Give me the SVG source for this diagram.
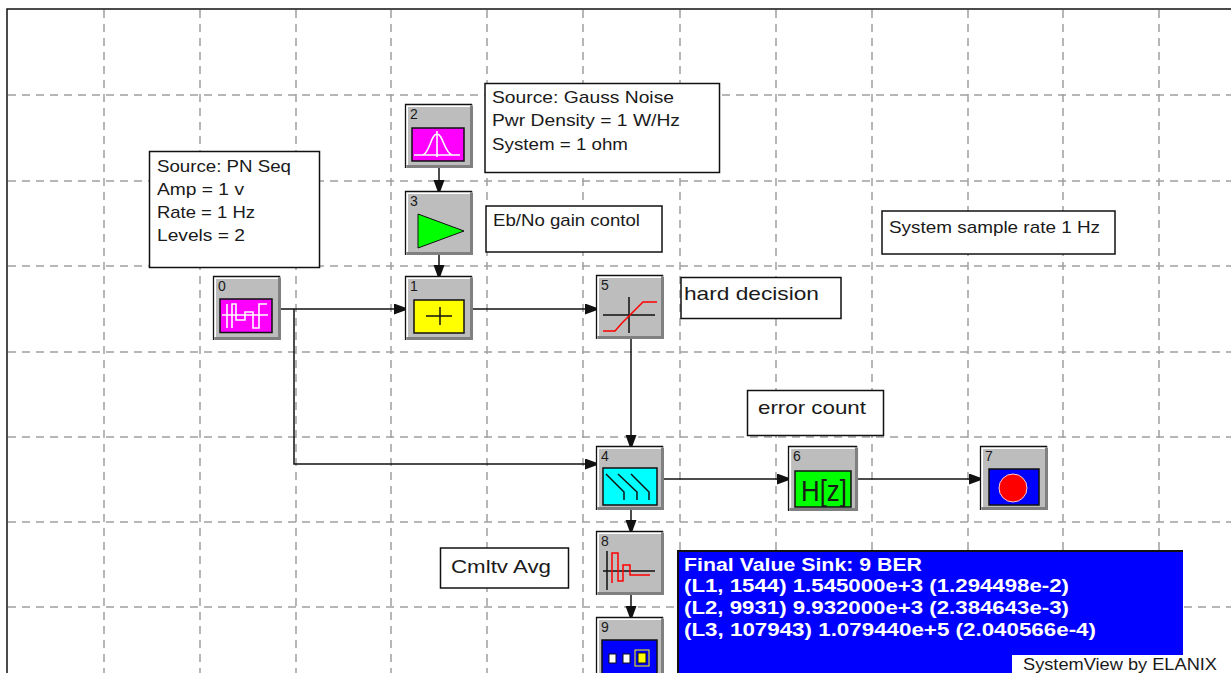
<svg xmlns="http://www.w3.org/2000/svg" width="1231" height="673" viewBox="0 0 1231 673">
<style>
text{font-family:"Liberation Sans",Arial,sans-serif;font-size:17px;fill:#1a1a1a}
.grid line{stroke:#a0a0a0;stroke-width:1.5;stroke-dasharray:8 6;fill:none}
.note{fill:#fff;stroke:#111;stroke-width:1.5}
text.num{font-size:14px}
.wire{stroke:#111;stroke-width:1.5;fill:none}
.w{fill:none;stroke:#fff;stroke-width:1.6}
.k{fill:none;stroke:#111;stroke-width:1.5}
.r{fill:none;stroke:#f00;stroke-width:1.5}
.scr{stroke:#111;stroke-width:1.5}
text.big{font-size:19px}
text.sink{fill:#fff;font-size:18px;font-weight:bold}
</style>
<defs>
<marker id="a" markerWidth="12" markerHeight="12" refX="11" refY="5.500" orient="auto" markerUnits="userSpaceOnUse"><path d="M0 0L11 4V7L0 11z" fill="#111"/></marker>
<g id="frame"><rect width="68" height="64" fill="#bdbdbd"/><path d="M66.500 2V62.500H2" fill="none" stroke="#808080" stroke-width="3"/><path d="M2 61V2H65" fill="none" stroke="#fff" stroke-width="2"/><path d="M0.500 64V0.500H67" fill="none" stroke="#111" stroke-width="1.300"/></g>
</defs>
<rect width="1231" height="673" fill="#fff"/>
<path d="M7 673V9H1231" fill="none" stroke="#111" stroke-width="1.500"/>
<g class="grid">
<line x1="104" y1="10" x2="104" y2="673"/><line x1="200" y1="10" x2="200" y2="673"/><line x1="296" y1="10" x2="296" y2="673"/><line x1="391" y1="10" x2="391" y2="673"/><line x1="487" y1="10" x2="487" y2="673"/><line x1="583" y1="10" x2="583" y2="673"/><line x1="680" y1="10" x2="680" y2="673"/><line x1="776" y1="10" x2="776" y2="673"/><line x1="872" y1="10" x2="872" y2="673"/><line x1="968" y1="10" x2="968" y2="673"/><line x1="1063" y1="10" x2="1063" y2="673"/><line x1="1159" y1="10" x2="1159" y2="673"/>
<line x1="8" y1="95" x2="1231" y2="95"/><line x1="8" y1="181" x2="1231" y2="181"/><line x1="8" y1="266" x2="1231" y2="266"/><line x1="8" y1="352" x2="1231" y2="352"/><line x1="8" y1="437" x2="1231" y2="437"/><line x1="8" y1="522" x2="1231" y2="522"/><line x1="8" y1="607" x2="1231" y2="607"/>
</g>
<g id="connectors">
<path class="wire" d="M439 168V191" marker-end="url(#a)"/>
<path class="wire" d="M439 255V276" marker-end="url(#a)"/>
<path class="wire" d="M281 309H405" marker-end="url(#a)"/>
<path class="wire" d="M294 309V464H596" marker-end="url(#a)"/>
<path class="wire" d="M473 309H596" marker-end="url(#a)"/>
<path class="wire" d="M631 339V446" marker-end="url(#a)"/>
<path class="wire" d="M664 479H788" marker-end="url(#a)"/>
<path class="wire" d="M858 479H980" marker-end="url(#a)"/>
<path class="wire" d="M631 510V531" marker-end="url(#a)"/>
<path class="wire" d="M631 595V617" marker-end="url(#a)"/>
</g>
<g id="note0"><rect class="note" x="149.500" y="151.500" width="170" height="116"/><text x="157" y="172" textLength="134" lengthAdjust="spacingAndGlyphs">Source: PN Seq</text><text x="157" y="195" textLength="87" lengthAdjust="spacingAndGlyphs">Amp = 1 v</text><text x="157" y="218" textLength="98" lengthAdjust="spacingAndGlyphs">Rate = 1 Hz</text><text x="157" y="241" textLength="88" lengthAdjust="spacingAndGlyphs">Levels = 2</text></g>
<g id="note2"><rect class="note" x="485" y="83.500" width="234.500" height="89"/><text x="492" y="103" textLength="182" lengthAdjust="spacingAndGlyphs">Source: Gauss Noise</text><text x="492" y="126" textLength="188" lengthAdjust="spacingAndGlyphs">Pwr Density = 1 W/Hz</text><text x="492" y="150" textLength="136" lengthAdjust="spacingAndGlyphs">System = 1 ohm</text></g>
<g id="note3"><rect class="note" x="486" y="206" width="176" height="46"/><text x="493" y="226" textLength="147" lengthAdjust="spacingAndGlyphs">Eb/No gain contol</text></g>
<g id="note-rate"><rect class="note" x="882" y="211" width="233" height="43"/><text x="889" y="233" textLength="211" lengthAdjust="spacingAndGlyphs">System sample rate 1 Hz</text></g>
<g id="note5"><rect class="note" x="681" y="277.500" width="160" height="41"/><text class="big" x="684" y="300" textLength="135" lengthAdjust="spacingAndGlyphs">hard decision</text></g>
<g id="note6"><rect class="note" x="747.500" y="390.500" width="136" height="45"/><text class="big" x="758" y="414" textLength="108" lengthAdjust="spacingAndGlyphs">error count</text></g>
<g id="note8"><rect class="note" x="440.500" y="548" width="128" height="40"/><text class="big" x="451" y="573" textLength="100" lengthAdjust="spacingAndGlyphs">Cmltv Avg</text></g>
<g id="node0"><use href="#frame" x="213" y="276"/><text class="num" x="218" y="291">0</text><rect class="scr" x="220" y="299" width="52" height="33.500" fill="#f0f"/><path class="w" d="M222 315H268M227 304V328M232 328V304H236V320H245V312H253V328H259V304H267"/></g>
<g id="node2"><use href="#frame" x="405" y="104"/><text class="num" x="410" y="119">2</text><rect class="scr" x="412" y="128" width="52" height="33" fill="#f0f"/><path class="w" d="M414 155H460M437 131V157M423 155C430 152 431 134 437 134C443 134 444 152 452 155"/></g>
<g id="node3"><use href="#frame" x="405" y="191"/><text class="num" x="410" y="206">3</text><path d="M418 214L464 231L418 248z" fill="#0f0" stroke="#111"/></g>
<g id="node1"><use href="#frame" x="405" y="276"/><text class="num" x="410" y="291">1</text><rect class="scr" x="414" y="300" width="50" height="33" fill="#ff0"/><path class="k" d="M426 316H452M440 307V325"/></g>
<g id="node5"><use href="#frame" x="596" y="275"/><text class="num" x="601" y="290">5</text><path class="k" d="M603 315H655M629 297V333"/><path class="r" d="M603 331H615L622 323L643 302H657"/></g>
<g id="node4"><use href="#frame" x="596" y="446"/><text class="num" x="601" y="461">4</text><rect class="scr" x="603" y="468" width="54" height="37" fill="#0ff"/><path class="k" d="M606 474L624 492V500M618 474L637 492V500M631 474L649 492V500"/></g>
<g id="node6"><use href="#frame" transform="translate(788 446) scale(1.03 1.016)"/><text class="num" x="793" y="461">6</text><rect class="scr" x="795" y="471" width="56" height="36" fill="#0f0"/><text x="801" y="501" style="font-size:30px" textLength="46" lengthAdjust="spacingAndGlyphs">H[z]</text></g>
<g id="node7"><use href="#frame" x="980" y="446"/><text class="num" x="985" y="461">7</text><rect class="scr" x="989" y="469" width="50" height="36" fill="#00f"/><circle cx="1013" cy="488" r="14" fill="#f00" stroke="#fcc" stroke-width="1"/></g>
<g id="node8"><use href="#frame" x="596" y="531"/><text class="num" x="601" y="546">8</text><path class="k" d="M603 571H655M607 551V590"/><path class="r" d="M612 583V553H618V581H623V565H630V575H650"/></g>
<g id="node9"><use href="#frame" x="596" y="617"/><text class="num" x="601" y="632">9</text><rect class="scr" x="602" y="640" width="55" height="40" fill="#00f"/><rect x="609" y="654" width="7" height="9" fill="#fff" stroke="#111"/><rect x="623" y="654" width="7" height="9" fill="#fff" stroke="#111"/><rect x="638" y="653" width="8" height="10" fill="#ff0" stroke="#111"/><rect x="635" y="650" width="14" height="16" fill="none" stroke="#ff0"/></g>
<g id="sink"><rect x="678" y="551" width="505" height="122" fill="#00f"/><path d="M678 673V551H1183" fill="none" stroke="#111" stroke-width="2"/><text class="sink" x="684" y="571" textLength="238" lengthAdjust="spacingAndGlyphs">Final Value Sink: 9 BER</text><text class="sink" x="684" y="592" textLength="385" lengthAdjust="spacingAndGlyphs">(L1, 1544) 1.545000e+3 (1.294498e-2)</text><text class="sink" x="684" y="614" textLength="385" lengthAdjust="spacingAndGlyphs">(L2, 9931) 9.932000e+3 (2.384643e-3)</text><text class="sink" x="684" y="636" textLength="412" lengthAdjust="spacingAndGlyphs">(L3, 107943) 1.079440e+5 (2.040566e-4)</text><rect x="1012" y="655" width="219" height="18" fill="#fff"/><text x="1023" y="670" textLength="194" lengthAdjust="spacingAndGlyphs">SystemView by ELANIX</text></g>
</svg>
